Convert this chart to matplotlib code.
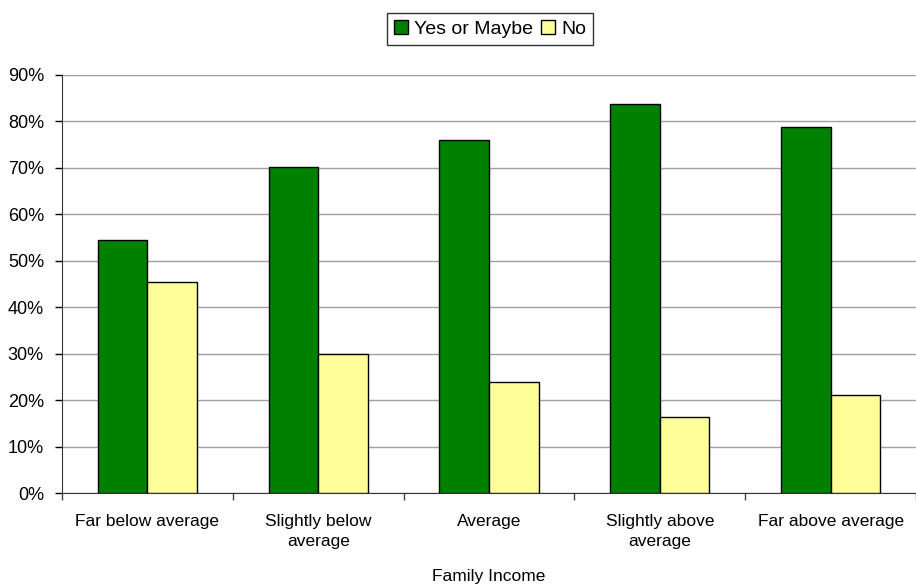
import numpy as np
import matplotlib
matplotlib.use('Agg')
import matplotlib.pyplot as plt
from matplotlib.ticker import FuncFormatter, MultipleLocator

plt.rcParams['font.family'] = ['Liberation Sans', 'DejaVu Sans']

# Data
categories = ["Far below average", "Slightly below\naverage", "Average",
              "Slightly above\naverage", "Far above average"]
yes_maybe = [54.5, 70.1, 76.1, 83.7, 78.9]
no = [45.5, 29.9, 23.9, 16.3, 21.1]
series_names = ["Yes or Maybe", "No"]

green = '#008000'
yellow = '#FFFF99'

fig = plt.figure(figsize=(9.16, 5.84), dpi=100)
ax = fig.add_axes([62 / 916, (584 - 493) / 584, (916 - 62) / 916, (493 - 75) / 584])

x = np.arange(len(categories))
w = 0.29
ax.bar(x - w / 2, yes_maybe, width=w, color=green, edgecolor='black', linewidth=1,
       label=series_names[0], zorder=3)
ax.bar(x + w / 2, no, width=w, color=yellow, edgecolor='black', linewidth=1,
       label=series_names[1], zorder=3)

ax.set_xlim(-0.5, len(categories) - 0.5)
ax.set_ylim(0, 90)
ax.yaxis.set_major_locator(MultipleLocator(10))
ax.yaxis.set_major_formatter(FuncFormatter(lambda v, p: f"{v:.0f}%"))
ax.yaxis.grid(True, color='#a0a0a0', linewidth=1, zorder=0)

# category labels centered, ticks at boundaries
ax.set_xticks(x)
ax.set_xticklabels(categories, fontsize=12.5, linespacing=1.45)
ax.tick_params(axis='x', length=0, pad=15)
ax.set_xticks(np.arange(len(categories) + 1) - 0.5, minor=True)
ax.tick_params(axis='x', which='minor', length=5, width=1, direction='out', color='#444444')
ax.tick_params(axis='y', length=5, width=1, direction='out', labelsize=13, pad=8)

for s in ['top', 'right']:
    ax.spines[s].set_visible(False)
ax.spines['left'].set_color('#333333')
ax.spines['bottom'].set_color('#333333')

ax.set_xlabel("Family Income", fontsize=12.5, labelpad=14)

leg = fig.legend(loc='center', bbox_to_anchor=(490 / 916, 1 - 29 / 584), ncol=2,
                 fontsize=14, frameon=True, fancybox=False, edgecolor='black',
                 handlelength=0.75, handleheight=0.75, handletextpad=0.3,
                 columnspacing=0.4, borderpad=0.35, borderaxespad=0.4)
leg.get_frame().set_linewidth(1)

fig.savefig('out.png', dpi=100)
